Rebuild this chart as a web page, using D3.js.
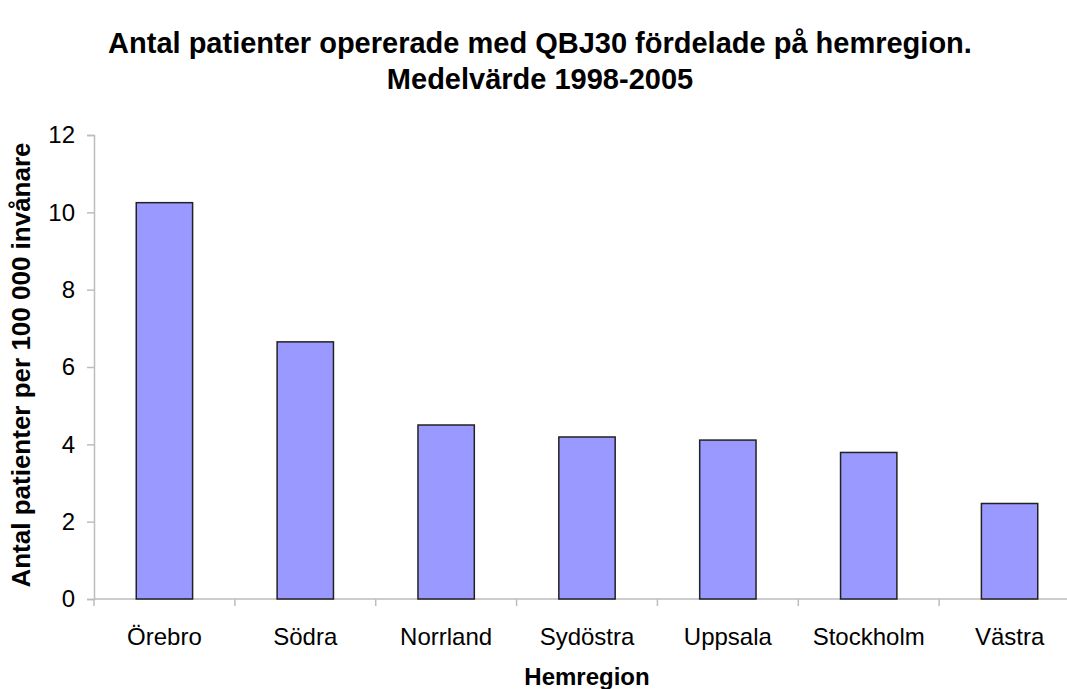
<!DOCTYPE html>
<html>
<head>
<meta charset="utf-8">
<script src="https://cdn.jsdelivr.net/npm/d3@7/dist/d3.min.js"></script>
<style>
body{margin:0;background:#fff;}
svg{display:block;font-family:"Liberation Sans",Arial,sans-serif;}
</style>
</head>
<body>
<div id="chart"></div>
<script>
var categories=["Örebro","Södra","Norrland","Sydöstra","Uppsala","Stockholm","Västra"];
var values=[10.25,6.65,4.50,4.19,4.11,3.79,2.47];
var yTicks=[0,2,4,6,8,10,12];
var titleLines=["Antal patienter opererade med QBJ30 fördelade på hemregion.","Medelvärde 1998-2005"];
var yLabel="Antal patienter per 100 000 invånare", xLabel="Hemregion";

var W=1067,H=689;
var mLeft=94,mRight=1080,mTop=135,mBottom=599;
var svg=d3.select("#chart").append("svg").attr("width",W).attr("height",H);

var x=d3.scaleBand().domain(categories).range([mLeft,mRight]).paddingInner(0.6).paddingOuter(0.3);
var y=d3.scaleLinear().domain([0,12]).range([mBottom,mTop]);

// title
svg.append("g").selectAll("text").data(titleLines).enter().append("text")
	.attr("x",540).attr("y",function(d,i){return 53+i*36;})
	.attr("text-anchor","middle").style("font-weight","bold").style("font-size","29px")
	.text(function(d){return d;});

// y axis
var yAxis=svg.append("g").attr("transform","translate("+mLeft+",0)")
	.call(d3.axisLeft(y).tickValues(yTicks).tickSize(7).tickPadding(12).tickFormat(d3.format("d")));
yAxis.select(".domain").attr("stroke","#bdbdbd").attr("stroke-width",1.5);
yAxis.selectAll(".tick line").attr("stroke","#bdbdbd").attr("stroke-width",1.5);
yAxis.selectAll(".tick text").style("font-size","24px").attr("fill","#000").attr("font-family",null);

// x axis: ticks between categories
var xAxis=svg.append("g").attr("transform","translate(0,"+mBottom+")");
xAxis.append("line").attr("x1",mLeft).attr("x2",mRight).attr("stroke","#bdbdbd").attr("stroke-width",1.5);
var bounds=d3.range(categories.length+1).map(function(i){return mLeft+i*x.step();});
xAxis.selectAll(".xt").data(bounds).enter().append("line").attr("class","xt")
	.attr("x1",function(d){return d;}).attr("x2",function(d){return d;})
	.attr("y1",0).attr("y2",7).attr("stroke","#bdbdbd").attr("stroke-width",1.5);
xAxis.selectAll(".xl").data(categories).enter().append("text").attr("class","xl")
	.attr("x",function(d){return x(d)+x.bandwidth()/2;}).attr("y",46)
	.attr("text-anchor","middle").style("font-size","24px").text(function(d){return d;});

// bars
svg.append("g").selectAll("rect").data(values).enter().append("rect")
	.attr("x",function(d,i){return x(categories[i]);})
	.attr("y",function(d){return y(d);})
	.attr("width",x.bandwidth())
	.attr("height",function(d){return y(0)-y(d);})
	.attr("fill","#9999ff").attr("stroke","#222").attr("stroke-width",1.5);

// axis labels
svg.append("text").attr("x",587).attr("y",685).attr("text-anchor","middle")
	.style("font-weight","bold").style("font-size","24px").text(xLabel);
svg.append("text").attr("transform","translate(30,365) rotate(-90)").attr("text-anchor","middle")
	.style("font-weight","bold").style("font-size","26px").text(yLabel);
</script>
</body>
</html>
